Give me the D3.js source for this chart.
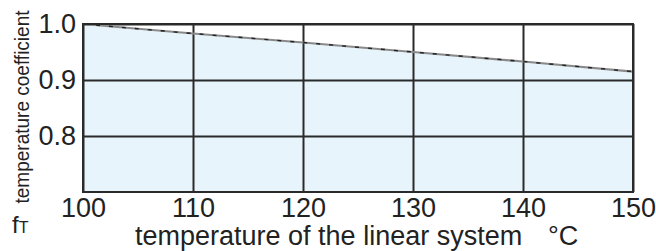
<!DOCTYPE html>
<html>
<head>
<meta charset="utf-8">
<script src="https://cdn.jsdelivr.net/npm/d3@7"></script>
<style>
  html, body { margin: 0; padding: 0; background: #fff; }
  svg { display: block; font-family: "Liberation Sans", Arial, sans-serif; }
</style>
</head>
<body>
<svg id="chart" width="656" height="251"></svg>
<script>
// temperature of the linear system (°C) and temperature coefficient fT
const temps = [100, 110, 120, 130, 140, 150];
const coefficient = [1.0, 0.983, 0.967, 0.950, 0.933, 0.915];
const xTicks = [100, 110, 120, 130, 140, 150];
const yTicks = [0.8, 0.9, 1.0];

const svg = d3.select('#chart');
const margin = { top: 24, right: 23, bottom: 59, left: 83 };
const width = +svg.attr('width') - margin.left - margin.right;
const height = +svg.attr('height') - margin.top - margin.bottom;

const g = svg.append('g')
  .attr('transform', `translate(${margin.left},${margin.top})`);

const x = d3.scaleLinear().domain([100, 150]).range([0, width]);
const y = d3.scaleLinear().domain([0.7, 1.0]).range([height, 0]);

const pts = temps.map((t, i) => ({ t, v: coefficient[i] }));

// light blue area under the curve
g.append('path')
  .datum(pts)
  .attr('fill', '#e7f4fc')
  .attr('d', d3.area().x(d => x(d.t)).y0(height).y1(d => y(d.v)));

// grid + tick labels
const xAxis = g.append('g')
  .attr('transform', `translate(0,${height})`)
  .call(d3.axisBottom(x).tickValues(xTicks).tickFormat(d3.format('d'))
    .tickSizeInner(-height).tickSizeOuter(0).tickPadding(6));

const yAxis = g.append('g')
  .call(d3.axisLeft(y).tickValues(yTicks).tickFormat(d3.format('.1f'))
    .tickSizeInner(-width).tickSizeOuter(0).tickPadding(7));

[xAxis, yAxis].forEach(ax => {
  ax.select('.domain').remove();
  ax.selectAll('line').attr('stroke', '#2a2a2a').attr('stroke-width', 2);
  ax.selectAll('text')
    .attr('fill', '#222')
    .style('font-size', '27px');
});

// the curve: grey line with darker dashes
const line = d3.line().x(d => x(d.t)).y(d => y(d.v));
g.append('path').datum(pts)
  .attr('fill', 'none').attr('stroke', '#8a8a8a').attr('stroke-width', 2.2)
  .attr('d', line);
g.append('path').datum(pts)
  .attr('fill', 'none').attr('stroke', '#222').attr('stroke-width', 1.4)
  .attr('stroke-dasharray', '4 9')
  .attr('d', line);

// frame
g.append('rect')
  .attr('width', width).attr('height', height)
  .attr('fill', 'none').attr('stroke', '#2a2a2a').attr('stroke-width', 2);

// axis titles
svg.append('text')
  .attr('x', 135).attr('y', 245)
  .attr('fill', '#222')
  .style('font-size', '27px')
  .text('temperature of the linear system');

svg.append('text')
  .attr('x', 548).attr('y', 245)
  .attr('fill', '#222')
  .style('font-size', '27px')
  .text('°C');

svg.append('text')
  .attr('transform', 'translate(29,107) rotate(-90)')
  .attr('text-anchor', 'middle')
  .attr('textLength', 193)
  .attr('lengthAdjust', 'spacingAndGlyphs')
  .attr('fill', '#222')
  .style('font-size', '20px')
  .text('temperature coefficient');

const fT = svg.append('text')
  .attr('x', 12).attr('y', 233)
  .attr('fill', '#222');
fT.append('tspan').style('font-size', '24px').text('f');
fT.append('tspan').style('font-size', '16px').text('T');
</script>
</body>
</html>
